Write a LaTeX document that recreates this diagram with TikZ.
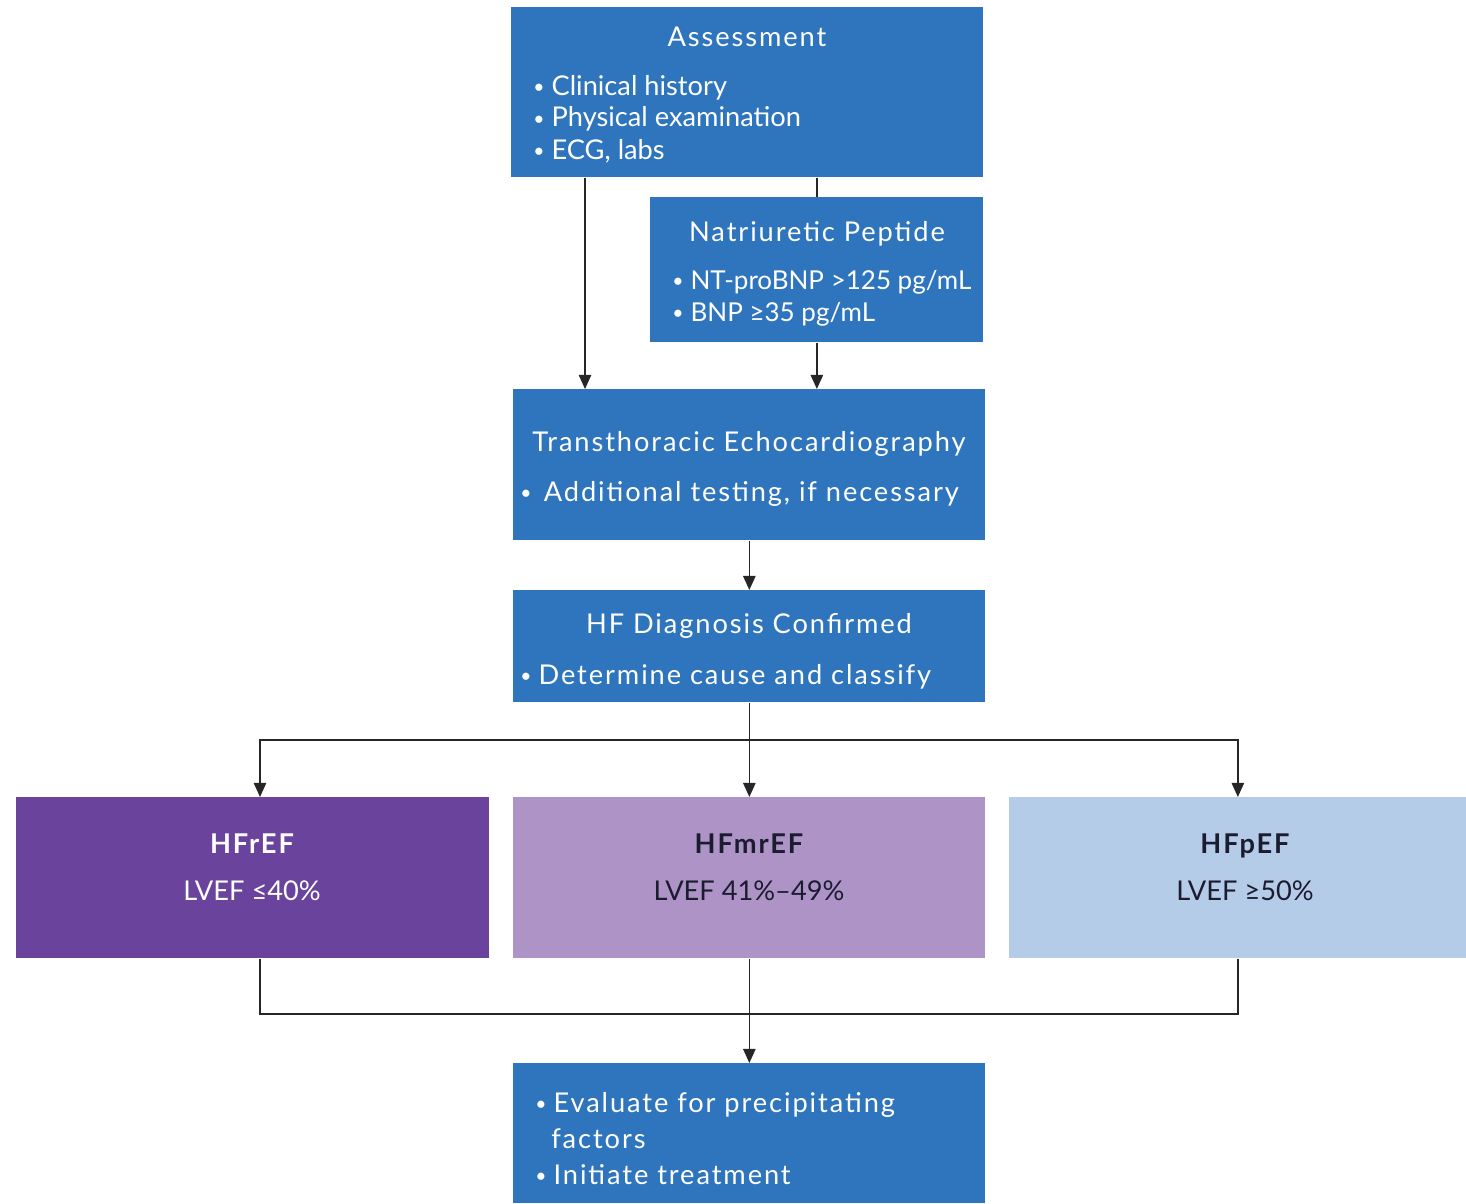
\documentclass[tikz,border=0pt]{standalone}
\usepackage{fontspec}
\setmainfont{Lato}
\newfontfamily\widefont[LetterSpace=7]{Lato}
\usetikzlibrary{arrows.meta,positioning}
\definecolor{boxblue}{HTML}{2E75BE}
\definecolor{hfrcol}{HTML}{6A449C}
\definecolor{hfmrcol}{HTML}{AD93C6}
\definecolor{hfpcol}{HTML}{B5CCE9}
\definecolor{inkdark}{HTML}{1C1C30}
\newcommand{\pxl}{0.02cm}
\newcommand{\bul}{\raisebox{1pt}{\fontsize{11}{11}\selectfont•}\hspace{4pt}}
\tikzset{
 panel/.style 2 args={fill=boxblue,inner sep=0pt,anchor=north west,
   minimum width=#1*\pxl,minimum height=#2*\pxl},
 head/.style={text=white,inner sep=0pt,anchor=base,font=\fontsize{15.5}{18}\widefont},
 item/.style={text=white,inner sep=0pt,anchor=base west},
 wide/.style={font=\fontsize{15.5}{18}\widefont},
 plain/.style={head,font=\fontsize{15.5}{18}\selectfont},
 link/.style={draw=black!85,line width=0.9pt},
 arr/.style={link,-{Triangle[length=8pt,width=7pt]}}
}
\begin{document}
\begin{tikzpicture}[x=\pxl,y=-\pxl,font=\fontsize{15.5}{18}\selectfont]
\useasboundingbox (0,0) rectangle (1466,1203);
% boxes
\node[panel={472}{170}] (assess) at (511,7) {};
\node[panel={333}{145}] (natri) at (650,197) {};
\node[panel={472}{151}] (echo) at (513,389) {};
\node[panel={472}{112}] (diag) at (513,590) {};
\node[panel={473}{161},fill=hfrcol] (hfr) at (16,797) {};
\node[panel={472}{161},fill=hfmrcol] (hfmr) at (513,797) {};
\node[panel={457}{161},fill=hfpcol] (hfp) at (1009,797) {};
\node[panel={472}{140}] (treat) at (513,1063) {};
% texts
\node[head] (assesst) at (747,47) {Assessment};
\foreach \t [count=\i] in {Clinical history,Physical examination,{ECG, labs}}{
 \node[item] (assess\i) at (533,{95+32*(\i-1)}) {\bul\t};
}
\node[head] (natrit) at (817,241) {Natriuretic Peptide};
\foreach \t [count=\i] in {NT-proBNP >125 pg/mL,BNP ≥35 pg/mL}{
 \node[item,font=\fontsize{14.8}{18}\selectfont] (natri\i) at (672,{289+32*(\i-1)}) {\bul\t};
}
\node[head] (echot) at (749,451) {Transthoracic Echocardiography};
\node[item,wide] (echo1) at (520,501) {\bul\hspace{3pt}Additional testing, if necessary};
\node[head] (diagt) at (749,633) {HF Diagnosis Confirmed};
\node[item,wide] (diag1) at (520,684) {\bul Determine cause and classify};
\node[head,font=\fontsize{15.5}{18}\widefont\bfseries] (hfrt) at (252,853) {HFrEF};
\node[plain] (hfrv) at (252,900) {LVEF ≤40\%};
\node[head,text=inkdark,font=\fontsize{15.5}{18}\widefont\bfseries] (hfmrt) at (749,853) {HFmrEF};
\node[plain,text=inkdark] (hfmrv) at (749,900) {LVEF 41\%–49\%};
\node[head,text=inkdark,font=\fontsize{15.5}{18}\widefont\bfseries] (hfpt) at (1245,853) {HFpEF};
\node[plain,text=inkdark] (hfpv) at (1245,900) {LVEF ≥50\%};
\node[item,wide] (treat1) at (535,1112) {\bul Evaluate for precipitating};
\node[item,wide] (treat2) at (551,1148) {factors};
\node[item,wide] (treat3) at (535,1184) {\bul Initiate treatment};
% connectors
\coordinate (lft) at (585,0);
\coordinate (lftb) at (260,0);
\coordinate (split) at (749,740);
\coordinate (join) at (749,1014);
\draw[arr] (assess.south -| lft) -- (echo.north -| lft);
\draw[link] (assess.south -| natri.north) -- (natri.north);
\draw[arr] (natri.south) -- (echo.north -| natri.south);
\draw[arr] (echo.south) -- (diag.north);
\draw[arr] (diag.south) -- (hfmr.north);
\draw[arr] (split) -| (hfr.north -| lftb);
\draw[arr] (split) -| (hfp.north);
\draw[link] (hfr.south -| lftb) |- (join);
\draw[link] (hfp.south) |- (join);
\draw[arr] (hfmr.south) -- (treat.north);
\end{tikzpicture}
\end{document}
